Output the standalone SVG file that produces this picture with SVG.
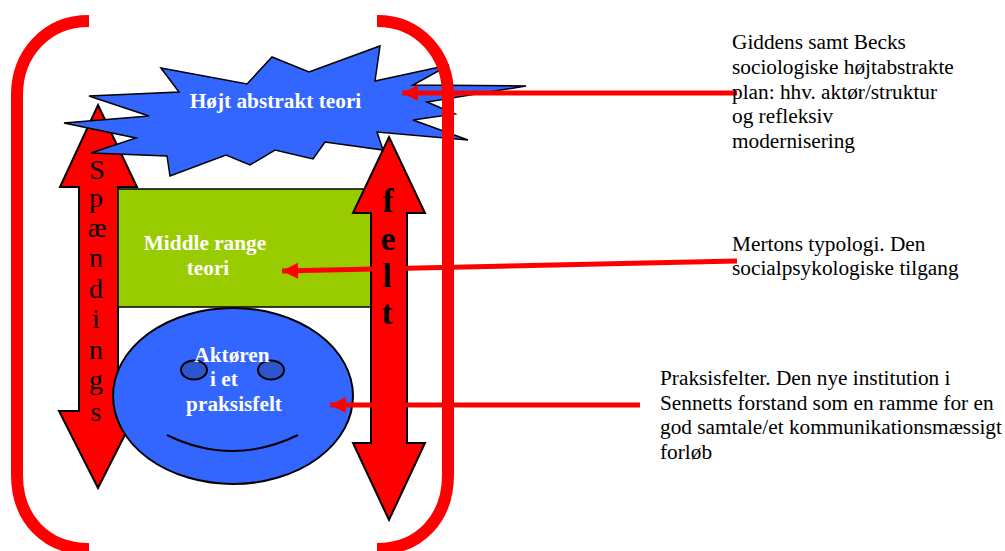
<svg xmlns="http://www.w3.org/2000/svg" width="1005" height="551" viewBox="0 0 1005 551">
<style>
.bracket{fill:none;stroke:#ff0000;stroke-width:12}
.big{fill:#ff0000;stroke:#000;stroke-width:2;stroke-linejoin:miter}
.ln{fill:none;stroke:#000;stroke-width:2}
.w{font-family:"Liberation Serif",serif;font-weight:bold;font-size:21.3px;fill:#fff;text-anchor:middle}
.t{font-family:"Liberation Serif",serif;font-size:21.3px;fill:#000}
.s{font-family:"Liberation Serif",serif;font-size:28px;fill:#000;text-anchor:middle}
.f{font-family:"Liberation Serif",serif;font-weight:bold;font-size:33px;fill:#000;text-anchor:middle}
.c{fill:none;stroke:#ff0000;stroke-width:5;marker-end:url(#h)}
</style>
<defs>
<marker id="h" markerUnits="userSpaceOnUse" markerWidth="17" markerHeight="18" refX="16" refY="8" orient="auto" overflow="visible"><path d="M0,0L16,8L0,16Z" fill="#ff0000"/></marker>
</defs>
<rect width="1005" height="551" fill="#fff"/>
<g id="left-arrow"><path class="big" d="M98,105L137,187H118V411H137L98,488L59,411H79V187H60Z"/></g>
<g id="middle-range"><rect x="118" y="189" width="253" height="118" fill="#99cc00" stroke="#000" stroke-width="1.5"/>
<text class="w" x="205" y="250">Middle range</text><text class="w" x="208" y="275">teori</text></g>
<g id="star"><path fill="#3366ff" stroke="#000" stroke-width="1.5" d="M161,68L247,84L272,57L309,72L380,46L375,81L449,65L413,85L526,86L427,102L455,114L413,120L468,140L377,132L383,150L325,142L313,159L275,150L250,165L226,155L170,176L167,156L91,153L136,138L64,123L149,116L89,96L179,92Z"/>
<text class="w" x="275.500" y="108">Højt abstrakt teori</text></g>
<g id="face"><ellipse cx="233" cy="396" rx="120" ry="88" fill="#3366ff" stroke="#000" stroke-width="2"/>
<ellipse cx="194" cy="370" rx="13" ry="9.500" fill="#2f55cc" stroke="#000" stroke-width="2"/>
<ellipse cx="271" cy="370" rx="13" ry="9.500" fill="#2f55cc" stroke="#000" stroke-width="2"/>
<path class="ln" d="M167,435Q232,467 298,435"/>
<text class="w" x="232" y="362">Aktøren</text><text class="w" x="224" y="386">i et</text><text class="w" x="234" y="411">praksisfelt</text></g>
<g id="brackets"><path class="bracket" d="M89,21C45,21 17,55 17,95V475C17,518 45,549 89,549"/>
<path class="bracket" d="M377,21C420,21 448,55 448,95V475C448,518 420,549 377,549"/></g>
<g id="right-arrow"><path class="big" d="M389,137L425,213H407V443H425L389,520L353,443H371V213H353Z"/></g>
<g id="spaending" class="s"><text x="97" y="179">S</text><text x="96" y="207">p</text><text x="97" y="237">æ</text><text x="96" y="267">n</text><text x="96" y="298">d</text><text x="96" y="328">i</text><text x="96" y="359">n</text><text x="96" y="389">g</text><text x="96" y="421">s</text></g>
<g id="connectors">
<path class="c" d="M737,93H402"/>
<path class="c" d="M737,261L282,271"/>
<path class="c" d="M640,405H330"/>
</g>
<g id="felt"><text class="f" x="388" y="212">f</text><text class="f" x="388" y="250">e</text><text class="f" x="387" y="287">l</text><text class="f" x="387" y="324">t</text></g>
<g id="label-giddens"><text class="t" x="732" y="49">Giddens samt Becks</text><text class="t" x="732" y="74">sociologiske højtabstrakte</text><text class="t" x="732" y="99">plan: hhv. aktør/struktur</text><text class="t" x="732" y="123">og refleksiv</text><text class="t" x="732" y="148">modernisering</text></g>
<g id="label-merton"><text class="t" x="732" y="251">Mertons typologi. Den</text><text class="t" x="732" y="275">socialpsykologiske tilgang</text></g>
<g id="label-praksis"><text class="t" x="660" y="385">Praksisfelter. Den nye institution i</text><text class="t" x="660" y="410">Sennetts forstand som en ramme for en</text><text class="t" x="660" y="434">god samtale/et kommunikationsmæssigt</text><text class="t" x="660" y="459">forløb</text></g>
</svg>
